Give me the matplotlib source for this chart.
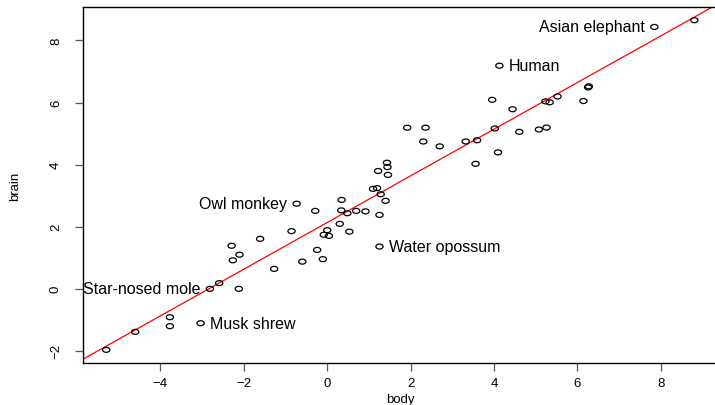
import numpy as np
import matplotlib
matplotlib.use("Agg")
import matplotlib.pyplot as plt
from matplotlib.path import Path

# mammals: body weight (kg), brain weight (g)
species = ["Arctic fox", "Owl monkey", "Mountain beaver", "Cow", "Grey wolf", "Goat",
           "Roe deer", "Guinea pig", "Verbet", "Chinchilla", "Ground squirrel",
           "Arctic ground squirrel", "African giant pouched rat", "Lesser short-tailed shrew",
           "Star-nosed mole", "Nine-banded armadillo", "Tree hyrax", "N.A. opossum",
           "Asian elephant", "Big brown bat", "Donkey", "Horse", "European hedgehog",
           "Patas monkey", "Cat", "Galago", "Genet", "Giraffe", "Gorilla", "Grey seal",
           "Rock hyrax-a", "Human", "African elephant", "Water opossum", "Rhesus monkey",
           "Kangaroo", "Yellow-bellied marmot", "Golden hamster", "Mouse",
           "Little brown bat", "Slow loris", "Okapi", "Rabbit", "Sheep", "Jaguar",
           "Chimpanzee", "Baboon", "Desert hedgehog", "Giant armadillo", "Rock hyrax-b",
           "Raccoon", "Rat", "E. American mole", "Mole rat", "Musk shrew", "Pig",
           "Echidna", "Brazilian tapir", "Tenrec", "Phalanger", "Tree shrew", "Red fox"]
body = [3.385, 0.48, 1.35, 465.0, 36.33, 27.66, 14.83, 1.04, 4.19, 0.425, 0.101,
        0.92, 1.0, 0.005, 0.06, 3.5, 2.0, 1.7, 2547.0, 0.023, 187.1, 521.0, 0.785,
        10.0, 3.3, 0.2, 1.41, 529.0, 207.0, 85.0, 0.75, 62.0, 6654.0, 3.5, 6.8,
        35.0, 4.05, 0.12, 0.023, 0.01, 1.4, 250.0, 2.5, 55.5, 100.0, 52.16, 10.55,
        0.55, 60.0, 3.6, 4.288, 0.28, 0.075, 0.122, 0.048, 192.0, 3.0, 160.0, 0.9,
        1.62, 0.104, 4.235]
brain = [44.5, 15.5, 8.1, 423.0, 119.5, 115.0, 98.2, 5.5, 58.0, 6.4, 4.0, 5.7, 6.6,
         0.14, 1.0, 10.8, 12.3, 6.3, 4603.0, 0.3, 419.0, 655.0, 3.5, 115.0, 25.6,
         5.0, 17.5, 680.0, 406.0, 325.0, 12.3, 1320.0, 5712.0, 3.9, 179.0, 56.0,
         17.0, 1.0, 0.4, 0.25, 12.5, 490.0, 12.1, 175.0, 157.0, 440.0, 179.5, 2.4,
         81.0, 21.0, 39.2, 1.9, 1.2, 3.0, 0.33, 180.0, 25.0, 169.0, 2.6, 11.4, 2.5,
         50.4]

# labelled points and which side the label sits on
left_labels = ["Owl monkey", "Star-nosed mole", "Asian elephant"]
right_labels = ["Human", "Water opossum", "Musk shrew"]

x = np.log(body)
y = np.log(brain)
slope, intercept = np.polyfit(x, y, 1)

plt.rcParams['font.family'] = ['Liberation Sans', 'DejaVu Sans']

# the reference is stretched sideways, so the circles are slightly wide ellipses
t = np.linspace(0, 2 * np.pi, 41)
oval = Path(np.column_stack([1.45 * np.cos(t), np.sin(t)]), closed=True)

fig = plt.figure(figsize=(7.15, 4.06), dpi=100)
ax = fig.add_axes([0.1157, 0.1034, 0.8884, 0.8768])

ax.scatter(x, y, s=27, marker=oval, facecolors='none', edgecolors='black',
           linewidths=0.9, zorder=3)
ax.axline((0, intercept), slope=slope, color='red', lw=0.9, zorder=2)

for name in left_labels:
    i = species.index(name)
    ax.annotate(name, (x[i], y[i]), xytext=(-7, 0), textcoords='offset points',
                ha='right', va='center', fontsize=11.5, annotation_clip=False,
                clip_on=True)
for name in right_labels:
    i = species.index(name)
    ax.annotate(name, (x[i], y[i]), xytext=(7, 0), textcoords='offset points',
                ha='left', va='center', fontsize=11.5, clip_on=True)

# R-style 4% padding
xr = x.max() - x.min()
yr = y.max() - y.min()
ax.set_xlim(x.min() - 0.04 * xr, x.max() + 0.04 * xr)
ax.set_ylim(y.min() - 0.04 * yr, y.max() + 0.04 * yr)

ax.set_xticks([-4, -2, 0, 2, 4, 6, 8])
ax.set_yticks([-2, 0, 2, 4, 6, 8])
ax.tick_params(axis='both', direction='out', length=6, width=0.9, color='#555555',
               labelsize=9.5)
ax.tick_params(axis='x', pad=4)
ax.tick_params(axis='y', pad=9)
for lab in ax.get_yticklabels():
    lab.set_rotation(90)
    lab.set_va('center')
for sp in ax.spines.values():
    sp.set_linewidth(1.0)

ax.set_xlabel('body', fontsize=9.5, labelpad=3)
ax.set_ylabel('brain', fontsize=9.5, labelpad=21)

fig.savefig('out.png', dpi=100)
